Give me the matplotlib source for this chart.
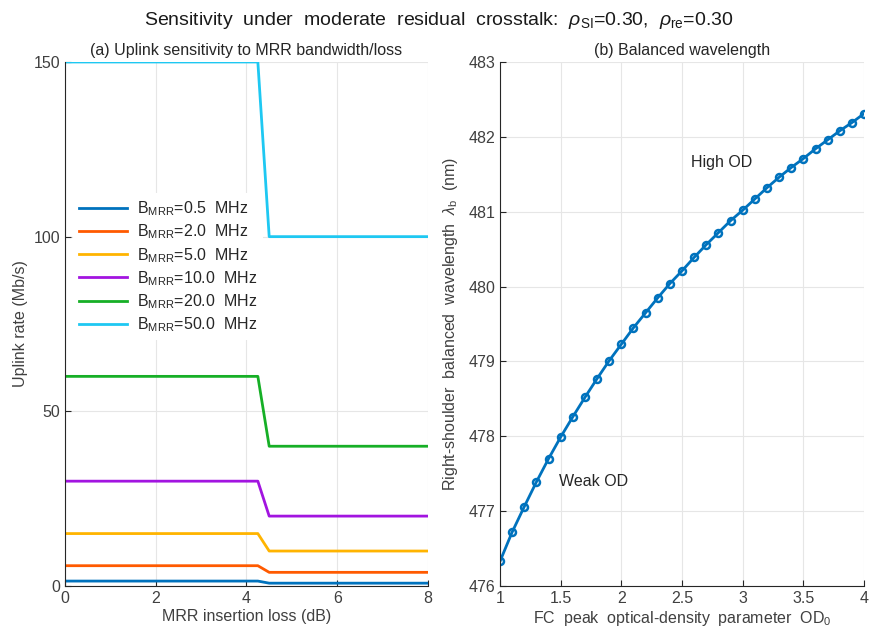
import numpy as np
import matplotlib
matplotlib.use('Agg')
import matplotlib.pyplot as plt
from matplotlib.ticker import FormatStrFormatter, FuncFormatter

plt.rcParams['font.family'] = ['Liberation Sans', 'DejaVu Sans']
plt.rcParams['mathtext.fontset'] = 'custom'
plt.rcParams['mathtext.rm'] = 'Liberation Sans'
plt.rcParams['mathtext.it'] = 'Liberation Sans:italic'
plt.rcParams['mathtext.bf'] = 'Liberation Sans:bold'

# (a) uplink rate vs MRR insertion loss
loss_db = [0, 4.25, 4.5, 8]
bw_mhz = ['0.5', '2.0', '5.0', '10.0', '20.0', '50.0']
rate_05 = [1.4, 1.4, 0.8, 0.8]
rate_2 = [5.8, 5.8, 3.9, 3.9]
rate_5 = [15, 15, 10, 10]
rate_10 = [30, 30, 20, 20]
rate_20 = [60, 60, 40, 40]
rate_50 = [150, 150, 100, 100]
rates = [rate_05, rate_2, rate_5, rate_10, rate_20, rate_50]

# (b) balanced wavelength vs OD0
od0 = [1.0, 1.1, 1.2, 1.3, 1.4, 1.5, 1.6, 1.7, 1.8, 1.9, 2.0,
       2.1, 2.2, 2.3, 2.4, 2.5, 2.6, 2.7, 2.8, 2.9, 3.0,
       3.1, 3.2, 3.3, 3.4, 3.5, 3.6, 3.7, 3.8, 3.9, 4.0]
lam_b = [476.33, 476.72, 477.06, 477.39, 477.70, 477.99, 478.26, 478.52, 478.77, 479.01, 479.23,
         479.45, 479.65, 479.85, 480.04, 480.21, 480.39, 480.56, 480.72, 480.88, 481.02,
         481.17, 481.32, 481.46, 481.59, 481.71, 481.84, 481.96, 482.08, 482.19, 482.31]

colors = ['#0072BD', '#FF5A00', '#FFB400', '#A214E0', '#16AF26', '#1EC8F2']
axcol = '#262626'
tickcol = '#404040'
gridcol = '#e6e6e6'

fig = plt.figure(figsize=(8.78, 6.39), dpi=100)
ax1 = fig.add_axes([0.074, 0.083, 0.4135, 0.820])
ax2 = fig.add_axes([0.5695, 0.083, 0.4146, 0.820])

def style(ax):
    ax.grid(True, color=gridcol, linewidth=0.8)
    ax.set_axisbelow(True)
    for s in ['top', 'right']:
        ax.spines[s].set_visible(False)
    for s in ['left', 'bottom']:
        ax.spines[s].set_color(axcol)
        ax.spines[s].set_linewidth(0.8)
    ax.tick_params(direction='in', length=4, width=0.8, colors=axcol,
                   labelcolor=tickcol, labelsize=11.5)

for r, b, c in zip(rates, bw_mhz, colors):
    ax1.plot(loss_db, r, color=c, linewidth=2,
             label=r'B$_{\mathrm{MRR}}$=' + b + '  MHz')
ax1.set_xlim(0, 8)
ax1.set_ylim(0, 150)
ax1.set_xticks([0, 2, 4, 6, 8])
ax1.set_yticks([0, 50, 100, 150])
style(ax1)
ax1.set_xlabel('MRR insertion loss (dB)', fontsize=11.5, color=tickcol, labelpad=2)
ax1.set_ylabel('Uplink rate (Mb/s)', fontsize=11.5, color=tickcol, labelpad=4)
ax1.set_title('(a) Uplink sensitivity to MRR bandwidth/loss', fontsize=11.5,
              color=axcol, pad=5)
leg = ax1.legend(loc='upper left', bbox_to_anchor=(0.0, 0.765), frameon=True,
                 fontsize=11.5, handlelength=3.0, labelspacing=0.28,
                 borderpad=0.4, handletextpad=0.6)
leg.get_frame().set_edgecolor('none')
leg.get_frame().set_alpha(1.0)
for t in leg.get_texts():
    t.set_color(axcol)

ax2.plot(od0, lam_b, '-o', color=colors[0], linewidth=2, markersize=5,
         markerfacecolor='none', markeredgewidth=1.8)
ax2.set_xlim(1, 4)
ax2.set_ylim(476, 483)
ax2.set_xticks([1, 1.5, 2, 2.5, 3, 3.5, 4])
ax2.set_yticks(np.arange(476, 484, 1))
ax2.xaxis.set_major_formatter(FuncFormatter(lambda v, p: f'{v:g}'))
ax2.yaxis.set_major_formatter(FormatStrFormatter('%d'))
style(ax2)
ax2.set_xlabel(r'FC  peak  optical-density  parameter  OD$_0$', fontsize=11.5,
               color=tickcol, labelpad=2)
ax2.set_ylabel(r'Right-shoulder  balanced  wavelength  $\lambda_{\mathrm{b}}$  (nm)',
               fontsize=11.5, color=tickcol, labelpad=6)
ax2.set_title('(b) Balanced wavelength', fontsize=11.5, color=axcol, pad=5)
ax2.text(2.57, 481.66, 'High OD', fontsize=11.5, color=axcol, va='center')
ax2.text(1.49, 477.39, 'Weak OD', fontsize=11.5, color=axcol, va='center')

fig.suptitle(r'Sensitivity  under  moderate  residual  crosstalk:  $\rho_{\mathrm{SI}}$=0.30,  $\rho_{\mathrm{re}}$=0.30',
             fontsize=14, color='#1a1a1a', y=0.985)

fig.savefig('out.png', dpi=100)
